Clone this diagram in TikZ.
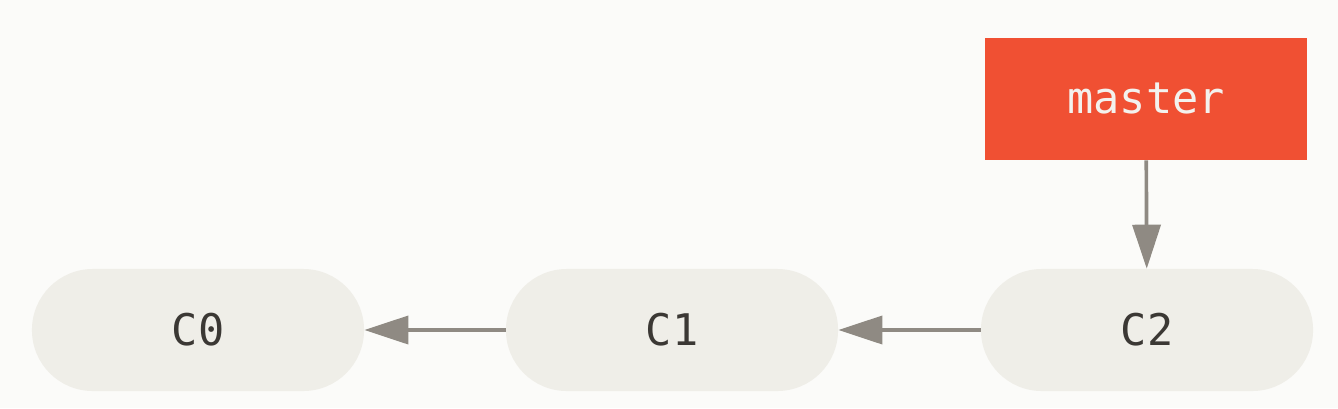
\documentclass[tikz,border=0pt]{standalone}
\usepackage{fontspec}
\setmonofont{DejaVu Sans Mono}
\usetikzlibrary{arrows.meta}
\definecolor{bgcol}{HTML}{FBFBF9}
\definecolor{commitcol}{HTML}{EFEEE8}
\definecolor{branchcol}{HTML}{F05033}
\definecolor{arrcol}{HTML}{8F8A83}
\definecolor{txtcol}{HTML}{3B3834}
\definecolor{btxtcol}{HTML}{F3F2EE}
\begin{document}
\begin{tikzpicture}[x=0.025cm, y=-0.025cm]
    \tikzstyle{commit}=[fill=commitcol, rounded corners=1.52cm, minimum width=8.3cm, minimum height=3.05cm, text=txtcol, font=\ttfamily\fontsize{31}{36}\selectfont]
    \tikzstyle{branch}=[fill=branchcol, minimum width=8.05cm, minimum height=3.05cm, text=btxtcol, font=\ttfamily\fontsize{31}{36}\selectfont]
    \tikzstyle{parr}=[draw=arrcol, line width=2.6pt, -{Triangle[length=1.1cm, width=0.7cm]}]

    \fill[bgcol] (0, 0) rectangle (1338, 408);
    \useasboundingbox (0, 0) rectangle (1338, 408);

    \node[commit] (c0) at (198, 330) {C0};
    \node[commit] (c1) at (672, 330) {C1};
    \node[commit] (c2) at (1147, 330) {C2};
    \node[branch] (master) at (1146, 99) {master};

    \draw[parr] (c1) -- (c0);
    \draw[parr] (c2) -- (c1);
    \draw[parr] (master) -- (c2);
\end{tikzpicture}
\end{document}
